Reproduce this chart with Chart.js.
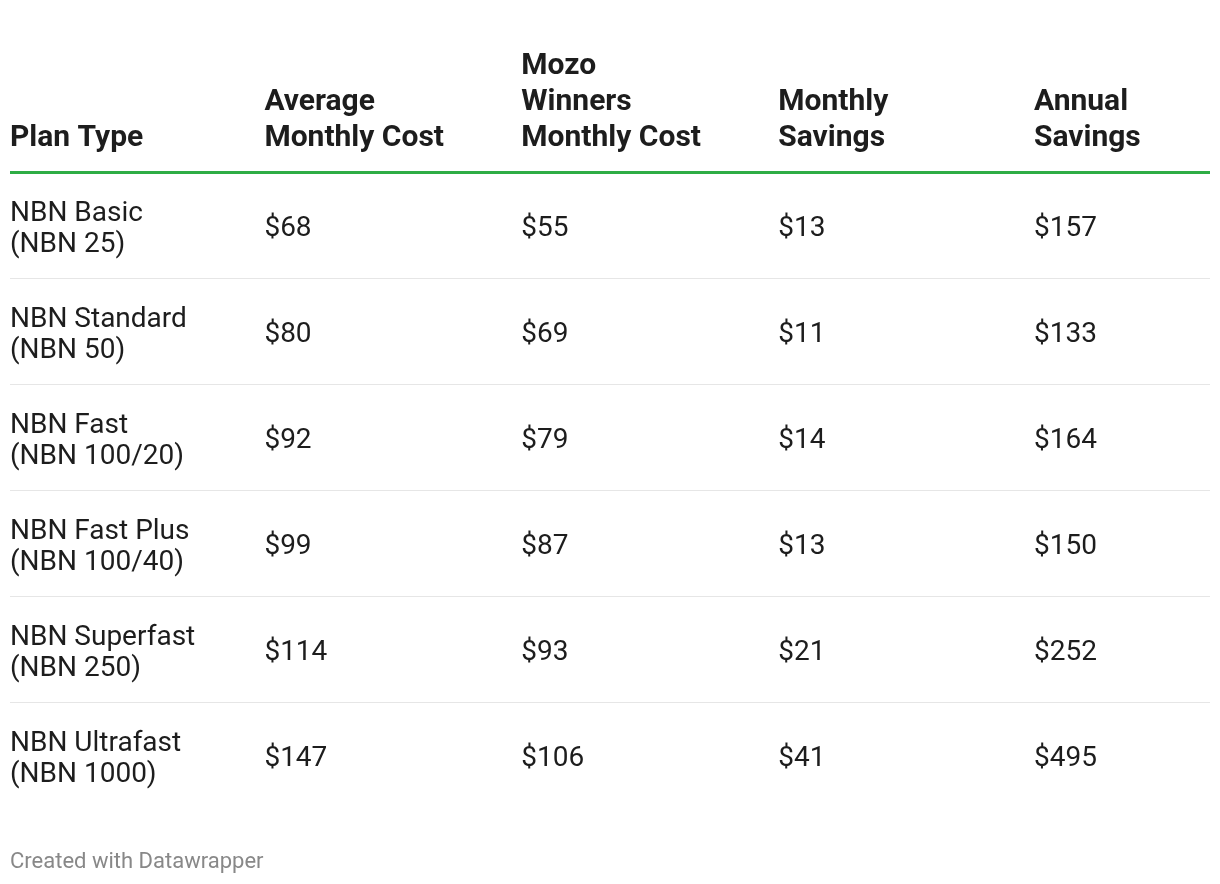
<!DOCTYPE html>
<html>
<head>
<meta charset="utf-8">
<title>NBN plan savings</title>
<script src="https://cdn.jsdelivr.net/npm/chart.js@4.4.1/dist/chart.umd.min.js"></script>
<style>
  html, body { margin: 0; padding: 0; background: #fff; }
  #wrap { width: 1220px; height: 884px; position: relative; }
</style>
</head>
<body>
<div id="wrap"><canvas id="tableChart" width="1220" height="884"></canvas></div>
<script>
// table data
const columnHeaders = [
    ['Plan Type'],
    ['Average', 'Monthly Cost'],
    ['Mozo', 'Winners', 'Monthly Cost'],
    ['Monthly', 'Savings'],
    ['Annual', 'Savings']
];
const planNames = ['NBN Basic', 'NBN Standard', 'NBN Fast', 'NBN Fast Plus', 'NBN Superfast', 'NBN Ultrafast'];
const planTiers = ['(NBN 25)', '(NBN 50)', '(NBN 100/20)', '(NBN 100/40)', '(NBN 250)', '(NBN 1000)'];
const avgMonthlyCost = [68, 80, 92, 99, 114, 147];
const mozoMonthlyCost = [55, 69, 79, 87, 93, 106];
const monthlySavings = [13, 11, 14, 13, 21, 41];
const annualSavings = [157, 133, 164, 150, 252, 495];
const footerText = 'Created with Datawrapper';

// column starts on the x scale (one unit ~ one column width)
const colStart = [0, 0.99, 1.99, 2.99, 3.985];
const X_MAX = 4.67;

const TEXT = '#1d1d1d';
const GREEN = '#2fad45';
const RULE = '#e6e6e6';
const FONT = 'Roboto, "Noto Sans", sans-serif';

const money = v => '$' + v;

// one dataset per column, one (invisible) point per row, texts ride along
const columns = [
    planNames.map((n, i) => [n, planTiers[i]]),
    avgMonthlyCost.map(v => [money(v)]),
    mozoMonthlyCost.map(v => [money(v)]),
    monthlySavings.map(v => [money(v)]),
    annualSavings.map(v => [money(v)])
];

const datasets = columns.map((cells, c) => ({
    label: columnHeaders[c].join(' '),
    data: cells.map((_, r) => ({ x: colStart[c], y: r + 0.5 })),
    cellText: cells,
    pointRadius: 0,
    pointHoverRadius: 0,
    showLine: false
}));

const tableText = {
    id: 'tableText',
    afterDatasetsDraw(chart) {
        const ctx = chart.ctx;
        const area = chart.chartArea;
        const xs = chart.scales.x;
        ctx.save();
        ctx.textAlign = 'left';
        ctx.textBaseline = 'alphabetic';

        // header, bottom aligned above the green rule
        ctx.fillStyle = TEXT;
        ctx.font = 'bold 30px ' + FONT;
        columnHeaders.forEach((lines, c) => {
            const x = xs.getPixelForValue(colStart[c]);
            lines.slice().reverse().forEach((line, k) => {
                ctx.fillText(line, x, area.top - 26 - k * 36);
            });
        });

        // body cells
        ctx.font = '28px ' + FONT;
        chart.data.datasets.forEach((ds, d) => {
            const meta = chart.getDatasetMeta(d);
            meta.data.forEach((pt, i) => {
                const lines = ds.cellText[i];
                if (lines.length === 1) {
                    ctx.fillText(lines[0], pt.x, pt.y + 10.5);
                } else {
                    ctx.fillText(lines[0], pt.x, pt.y - 4);
                    ctx.fillText(lines[1], pt.x, pt.y + 27);
                }
            });
        });

        // footer
        ctx.fillStyle = '#888888';
        ctx.font = '22px ' + FONT;
        ctx.fillText(footerText, area.left, 868);
        ctx.restore();
    }
};

new Chart(document.getElementById('tableChart'), {
    type: 'scatter',
    data: { datasets },
    options: {
        responsive: false,
        maintainAspectRatio: false,
        animation: false,
        events: [],
        layout: { padding: { left: 10, right: 10, top: 172, bottom: 76 } },
        plugins: { legend: { display: false }, tooltip: { enabled: false } },
        scales: {
            x: { type: 'linear', min: 0, max: X_MAX, display: false },
            y: {
                type: 'linear',
                min: 0,
                max: planNames.length,
                reverse: true,
                ticks: { display: false, stepSize: 1, padding: 0 },
                border: { display: false },
                grid: {
                    drawTicks: false,
                    color: c => c.tick.value === 0 ? GREEN : (c.tick.value === planNames.length ? 'rgba(0,0,0,0)' : RULE),
                    lineWidth: c => c.tick.value === 0 ? 3 : (c.tick.value === planNames.length ? 0 : 1)
                }
            }
        }
    },
    plugins: [tableText]
});
</script>
</body>
</html>
